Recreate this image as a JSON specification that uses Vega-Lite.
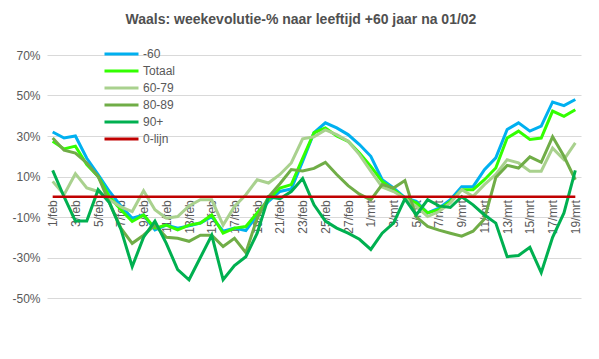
{
  "$schema": "https://vega.github.io/schema/vega-lite/v6.json",
  "width": 534,
  "height": 243,
  "autosize": "none",
  "padding": {"left": 47, "top": 55, "right": 18, "bottom": 61},
  "background": "white",
  "config": {
    "font": "Liberation Sans",
    "view": {"stroke": null}
  },
  "title": {
    "text": "Waals: weekevolutie-% naar leeftijd +60 jaar na 01/02",
    "fontSize": 14,
    "fontWeight": "bold",
    "color": "#505050",
    "anchor": "middle",
    "dx": -13,
    "offset": 21
  },
  "data": {
    "values": [
      {"d": "1/feb", "-60": 32, "Totaal": 27.4, "60-79": 7.6, "80-89": 29, "90+": 13, "0-lijn": 0},
      {"d": "2/feb", "-60": 29, "Totaal": 23.6, "60-79": 1, "80-89": 23, "90+": 0, "0-lijn": 0},
      {"d": "3/feb", "-60": 30, "Totaal": 25, "60-79": 11.4, "80-89": 21.6, "90+": -12, "0-lijn": 0},
      {"d": "4/feb", "-60": 19, "Totaal": 15.9, "60-79": 4.3, "80-89": 16.7, "90+": -12, "0-lijn": 0},
      {"d": "5/feb", "-60": 11, "Totaal": 10, "60-79": 2.6, "80-89": 10, "90+": 3.5, "0-lijn": 0},
      {"d": "6/feb", "-60": 2.6, "Totaal": 0, "60-79": -1.5, "80-89": -3, "90+": -3, "0-lijn": 0},
      {"d": "7/feb", "-60": -4.5, "Totaal": -6.4, "60-79": -5, "80-89": -15.5, "90+": -16, "0-lijn": 0},
      {"d": "8/feb", "-60": -10.6, "Totaal": -12.2, "60-79": -7.3, "80-89": -23, "90+": -34.5, "0-lijn": 0},
      {"d": "9/feb", "-60": -9, "Totaal": -9, "60-79": 3, "80-89": -19, "90+": -20, "0-lijn": 0},
      {"d": "10/feb", "-60": -16.4, "Totaal": -15.5, "60-79": -6.4, "80-89": -14, "90+": -12, "0-lijn": 0},
      {"d": "11/feb", "-60": -14, "Totaal": -14, "60-79": -10.6, "80-89": -20, "90+": -23, "0-lijn": 0},
      {"d": "12/feb", "-60": -15.5, "Totaal": -16.4, "60-79": -9.8, "80-89": -20.5, "90+": -36, "0-lijn": 0},
      {"d": "13/feb", "-60": -14.4, "Totaal": -14, "60-79": -4.5, "80-89": -22, "90+": -41, "0-lijn": 0},
      {"d": "14/feb", "-60": -13, "Totaal": -13, "60-79": -1.5, "80-89": -19, "90+": -30, "0-lijn": 0},
      {"d": "15/feb", "-60": -9.8, "Totaal": -9, "60-79": -1.5, "80-89": -19, "90+": -19, "0-lijn": 0},
      {"d": "16/feb", "-60": -17, "Totaal": -18, "60-79": -14, "80-89": -24.6, "90+": -41, "0-lijn": 0},
      {"d": "17/feb", "-60": -15.5, "Totaal": -15.5, "60-79": -4.8, "80-89": -20.5, "90+": -34, "0-lijn": 0},
      {"d": "18/feb", "-60": -16.7, "Totaal": -14.7, "60-79": 1, "80-89": -27.6, "90+": -29.6, "0-lijn": 0},
      {"d": "19/feb", "-60": -9, "Totaal": -8, "60-79": 8.4, "80-89": -10.6, "90+": -18, "0-lijn": 0},
      {"d": "20/feb", "-60": -2.3, "Totaal": -1.5, "60-79": 6.8, "80-89": 0, "90+": 0, "0-lijn": 0},
      {"d": "21/feb", "-60": 2.6, "Totaal": 4.3, "60-79": 11, "80-89": 6.4, "90+": -1, "0-lijn": 0},
      {"d": "22/feb", "-60": 3.8, "Totaal": 6, "60-79": 16.7, "80-89": 13.4, "90+": 2.6, "0-lijn": 0},
      {"d": "23/feb", "-60": 17.5, "Totaal": 19, "60-79": 28.6, "80-89": 12.7, "90+": 9, "0-lijn": 0},
      {"d": "24/feb", "-60": 31.6, "Totaal": 31.6, "60-79": 29.6, "80-89": 14, "90+": -4, "0-lijn": 0},
      {"d": "25/feb", "-60": 36.5, "Totaal": 34, "60-79": 33, "80-89": 17, "90+": -12, "0-lijn": 0},
      {"d": "26/feb", "-60": 34, "Totaal": 30, "60-79": 30.7, "80-89": 11, "90+": -15.5, "0-lijn": 0},
      {"d": "27/feb", "-60": 30.7, "Totaal": 27.4, "60-79": 27.4, "80-89": 5.5, "90+": -18, "0-lijn": 0},
      {"d": "28/feb", "-60": 25.8, "Totaal": 21.6, "60-79": 20.8, "80-89": 1.3, "90+": -21, "0-lijn": 0},
      {"d": "1/mrt", "-60": 20, "Totaal": 15, "60-79": 12.6, "80-89": -1.5, "90+": -26, "0-lijn": 0},
      {"d": "2/mrt", "-60": 8.4, "Totaal": 7.6, "60-79": 4.8, "80-89": 6, "90+": -18, "0-lijn": 0},
      {"d": "3/mrt", "-60": 4.3, "Totaal": 3.5, "60-79": 2.6, "80-89": 4.3, "90+": -13, "0-lijn": 0},
      {"d": "4/mrt", "-60": -0.5, "Totaal": -0.7, "60-79": -0.7, "80-89": 8, "90+": -1, "0-lijn": 0},
      {"d": "5/mrt", "-60": -2.3, "Totaal": -3, "60-79": -4.8, "80-89": -10, "90+": -9, "0-lijn": 0},
      {"d": "6/mrt", "-60": -8, "Totaal": -8, "60-79": -9.8, "80-89": -14.7, "90+": -1.5, "0-lijn": 0},
      {"d": "7/mrt", "-60": -5.6, "Totaal": -6.4, "60-79": -7.3, "80-89": -16.5, "90+": -4.5, "0-lijn": 0},
      {"d": "8/mrt", "-60": -1.5, "Totaal": -2.3, "60-79": -3, "80-89": -18, "90+": -5.3, "0-lijn": 0},
      {"d": "9/mrt", "-60": 5, "Totaal": 3.5, "60-79": 3.5, "80-89": -19.5, "90+": 0, "0-lijn": 0},
      {"d": "10/mrt", "-60": 5, "Totaal": 3.5, "60-79": 0.2, "80-89": -17, "90+": -4, "0-lijn": 0},
      {"d": "11/mrt", "-60": 13.4, "Totaal": 8.4, "60-79": 6, "80-89": -11, "90+": -9, "0-lijn": 0},
      {"d": "12/mrt", "-60": 19.2, "Totaal": 14.2, "60-79": 11, "80-89": 9.5, "90+": -13, "0-lijn": 0},
      {"d": "13/mrt", "-60": 33.2, "Totaal": 29, "60-79": 18.3, "80-89": 15.5, "90+": -29.6, "0-lijn": 0},
      {"d": "14/mrt", "-60": 36.5, "Totaal": 32.4, "60-79": 16.7, "80-89": 14.2, "90+": -29, "0-lijn": 0},
      {"d": "15/mrt", "-60": 32.4, "Totaal": 28.3, "60-79": 12.6, "80-89": 19.7, "90+": -25, "0-lijn": 0},
      {"d": "16/mrt", "-60": 34.9, "Totaal": 29, "60-79": 12.6, "80-89": 17, "90+": -37.5, "0-lijn": 0},
      {"d": "17/mrt", "-60": 46.8, "Totaal": 42.3, "60-79": 24, "80-89": 29.6, "90+": -20, "0-lijn": 0},
      {"d": "18/mrt", "-60": 45, "Totaal": 39.7, "60-79": 18.3, "80-89": 20, "90+": -8, "0-lijn": 0},
      {"d": "19/mrt", "-60": 48, "Totaal": 43, "60-79": 26.6, "80-89": 8.4, "90+": 13, "0-lijn": 0}
    ]
  },
  "transform": [
    {"fold": ["-60", "Totaal", "60-79", "80-89", "90+", "0-lijn"], "as": ["s", "v"]}
  ],
  "encoding": {
    "x": {
      "field": "d",
      "type": "ordinal",
      "sort": null,
      "scale": {"type": "point", "padding": 0.5},
      "axis": {
        "title": null,
        "values": ["1/feb","3/feb","5/feb","7/feb","9/feb","11/feb","13/feb","15/feb","17/feb","19/feb","21/feb","23/feb","25/feb","27/feb","1/mrt","3/mrt","5/mrt","7/mrt","9/mrt","11/mrt","13/mrt","15/mrt","17/mrt","19/mrt"],
        "labelAngle": -90,
        "offset": -101.25,
        "domain": false,
        "ticks": false,
        "grid": false,
        "labelPadding": 3,
        "labelFontSize": 12,
        "labelColor": "#595959"
      }
    },
    "y": {
      "field": "v",
      "type": "quantitative",
      "scale": {"domain": [-50, 70], "nice": false, "zero": false},
      "axis": {
        "title": null,
        "values": [-50, -30, -10, 10, 30, 50, 70],
        "labelExpr": "datum.value + '%'",
        "grid": true,
        "gridColor": "#d9d9d9",
        "gridWidth": 1,
        "domain": false,
        "ticks": false,
        "labelPadding": 7,
        "labelFontSize": 12,
        "labelColor": "#595959"
      }
    },
    "color": {
      "field": "s",
      "type": "nominal",
      "scale": {
        "domain": ["-60", "Totaal", "60-79", "80-89", "90+", "0-lijn"],
        "range": ["#00b0f0", "#33ff00", "#a9d18e", "#70ad47", "#00b050", "#c00000"]
      },
      "legend": {
        "title": null,
        "orient": "none",
        "legendX": 56,
        "legendY": -7,
        "symbolType": "stroke",
        "symbolSize": 1156,
        "symbolStrokeWidth": 3,
        "clipHeight": 12,
        "rowPadding": 5,
        "labelOffset": 3,
        "labelFontSize": 12,
        "labelColor": "#595959",
        "padding": 0
      }
    }
  },
  "layer": [
    {
      "transform": [{"filter": "datum.s !== '0-lijn'"}],
      "mark": {"type": "line", "strokeWidth": 3}
    },
    {
      "transform": [{"filter": "datum.s === '0-lijn'"}],
      "mark": {"type": "line", "strokeWidth": 2.5}
    }
  ]
}
